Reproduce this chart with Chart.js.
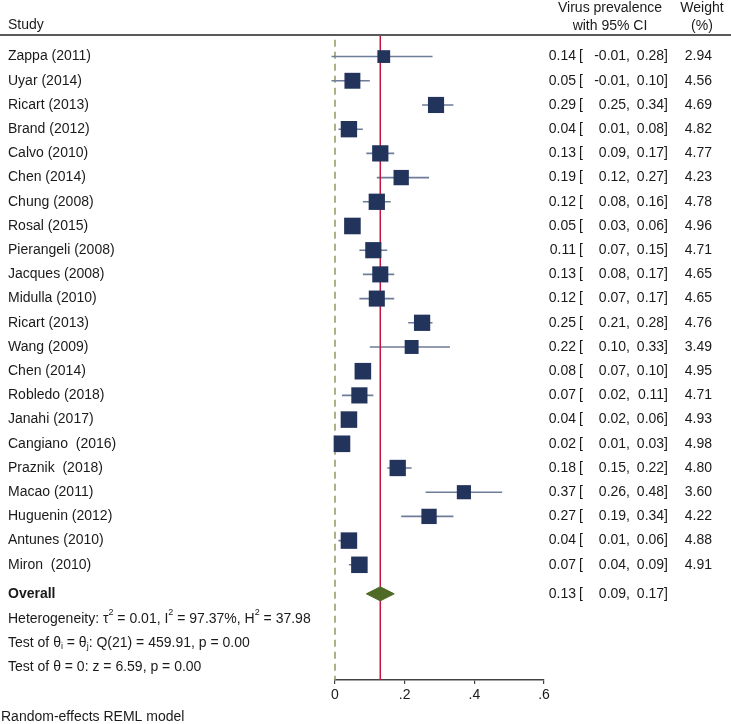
<!DOCTYPE html>
<html>
<head>
<meta charset="utf-8">
<script src="https://cdn.jsdelivr.net/npm/chart.js@4.4.1/dist/chart.umd.min.js"></script>
<style>
  body { margin: 0; background: #fff; }
  canvas { display: block; }
</style>
</head>
<body>
<canvas id="forest" width="731" height="724"></canvas>
<script>
const FONT = "'Liberation Sans', Arial, sans-serif";

const studies = [
  'Zappa (2011)', 'Uyar (2014)', 'Ricart (2013)', 'Brand (2012)', 'Calvo (2010)',
  'Chen (2014)', 'Chung (2008)', 'Rosal (2015)', 'Pierangeli (2008)', 'Jacques (2008)',
  'Midulla (2010)', 'Ricart (2013)', 'Wang (2009)', 'Chen (2014)', 'Robledo (2018)',
  'Janahi (2017)', 'Cangiano  (2016)', 'Praznik  (2018)', 'Macao (2011)', 'Huguenin (2012)',
  'Antunes (2010)', 'Miron  (2010)'
];
const estimates = [0.14, 0.05, 0.29, 0.04, 0.13, 0.19, 0.12, 0.05, 0.11, 0.13, 0.12,
                   0.25, 0.22, 0.08, 0.07, 0.04, 0.02, 0.18, 0.37, 0.27, 0.04, 0.07];
const lower = [-0.01, -0.01, 0.25, 0.01, 0.09, 0.12, 0.08, 0.03, 0.07, 0.08, 0.07,
               0.21, 0.10, 0.07, 0.02, 0.02, 0.01, 0.15, 0.26, 0.19, 0.01, 0.04];
const upper = [0.28, 0.10, 0.34, 0.08, 0.17, 0.27, 0.16, 0.06, 0.15, 0.17, 0.17,
               0.28, 0.33, 0.10, 0.11, 0.06, 0.03, 0.22, 0.48, 0.34, 0.06, 0.09];
const weights = [2.94, 4.56, 4.69, 4.82, 4.77, 4.23, 4.78, 4.96, 4.71, 4.65, 4.65,
                 4.76, 3.49, 4.95, 4.71, 4.93, 4.98, 4.80, 3.60, 4.22, 4.88, 4.91];
const overallEst = 0.13;
const overallLo = 0.09;
const overallHi = 0.17;
const xTicks = [0, 0.2, 0.4, 0.6];

const heteroRuns = [{t: 'Heterogeneity: τ'}, {t: '2', sup: true}, {t: ' = 0.01, I'}, {t: '2', sup: true},
                    {t: ' = 97.37%, H'}, {t: '2', sup: true}, {t: ' = 37.98'}];
const thetaRuns = [{t: 'Test of θ'}, {t: 'i', sub: true}, {t: ' = θ'}, {t: 'j', sub: true},
                   {t: ': Q(21) = 459.91, p = 0.00'}];
const zRuns = [{t: 'Test of θ = 0: z = 6.59, p = 0.00'}];
const modelNote = 'Random-effects REML model';

// row positions on the hidden y axis
const rows = studies.map((s, i) => i + 1);
const overallRow = 23.2;
const yMin = 0.15, yMax = 26.76;

const ciData = [];
rows.forEach((r, i) => {
  ciData.push({x: lower[i], y: r}, {x: upper[i], y: r}, {x: null, y: null});
});
const markerData = rows.map((r, i) => ({x: estimates[i], y: r}));
const dh = 0.29; // half height of the diamond in row units
const diamondData = [
  {x: overallLo, y: overallRow}, {x: overallEst, y: overallRow - dh},
  {x: overallHi, y: overallRow}, {x: overallEst, y: overallRow + dh},
  {x: overallLo, y: overallRow}
];

function drawRuns(ctx, x, y, runs) {
  runs.forEach(r => {
    const small = r.sup || r.sub;
    ctx.font = (small ? '9px ' : '14px ') + FONT;
    const dy = r.sup ? -6 : (r.sub ? 4 : 0);
    ctx.fillText(r.t, x, y + dy);
    x += ctx.measureText(r.t).width;
  });
}

const textPlugin = {
  id: 'forestText',
  afterDraw(chart) {
    const ctx = chart.ctx;
    const y = chart.scales.y;
    ctx.save();
    ctx.fillStyle = '#1a1a1a';
    ctx.textBaseline = 'middle';
    ctx.font = '14px ' + FONT;

    // header
    ctx.textAlign = 'left';
    ctx.fillText('Study', 8, 25);
    ctx.textAlign = 'center';
    ctx.fillText('Virus prevalence', 610, 8);
    ctx.fillText('with 95% CI', 610, 26);
    ctx.fillText('Weight', 702, 8);
    ctx.fillText('(%)', 702, 26);
    ctx.strokeStyle = '#222';
    ctx.lineWidth = 1.5;
    ctx.beginPath();
    ctx.moveTo(0, 35);
    ctx.lineTo(731, 35);
    ctx.stroke();

    const ciText = (py, e, lo, hi) => {
      ctx.textAlign = 'right';
      ctx.fillText(e.toFixed(2), 576, py);
      ctx.textAlign = 'left';
      ctx.fillText('[', 579, py);
      ctx.textAlign = 'right';
      ctx.fillText(lo.toFixed(2) + ',', 630, py);
      ctx.fillText(hi.toFixed(2) + ']', 668, py);
    };

    rows.forEach((r, i) => {
      const py = y.getPixelForValue(r);
      ctx.textAlign = 'left';
      ctx.fillText(studies[i], 8, py);
      ciText(py, estimates[i], lower[i], upper[i]);
      ctx.textAlign = 'right';
      ctx.fillText(weights[i].toFixed(2), 712, py);
    });

    const oy = y.getPixelForValue(overallRow);
    ctx.textAlign = 'left';
    ctx.font = 'bold 14px ' + FONT;
    ctx.fillText('Overall', 8, oy);
    ctx.font = '14px ' + FONT;
    ciText(oy, overallEst, overallLo, overallHi);

    ctx.textAlign = 'left';
    drawRuns(ctx, 8, oy + 25, heteroRuns);
    drawRuns(ctx, 8, oy + 49, thetaRuns);
    drawRuns(ctx, 8, oy + 73, zRuns);
    ctx.font = '14px ' + FONT;
    ctx.fillText(modelNote, 1, 717);
    ctx.restore();
  }
};

new Chart(document.getElementById('forest'), {
  type: 'scatter',
  data: {
    datasets: [
      {
        // study markers
        data: markerData,
        pointStyle: 'rect',
        pointRadius: c => 5.27 * Math.sqrt(weights[c.dataIndex]),
        backgroundColor: '#22335c',
        borderWidth: 0,
        clip: false,
        order: 0
      },
      {
        type: 'line',
        data: diamondData,
        borderColor: '#4f6a25',
        backgroundColor: '#4f6a25',
        borderWidth: 1,
        fill: 'shape',
        pointRadius: 0,
        tension: 0,
        order: 1
      },
      {
        type: 'line',
        data: [{x: overallEst, y: yMin}, {x: overallEst, y: yMax}],
        borderColor: '#c2163f',
        borderWidth: 1.5,
        pointRadius: 0,
        order: 2
      },
      {
        type: 'line',
        data: ciData,
        borderColor: '#6e7c9a',
        borderWidth: 1.6,
        pointRadius: 0,
        spanGaps: false,
        clip: false,
        order: 3
      },
      {
        type: 'line',
        data: [{x: 0, y: 0.3}, {x: 0, y: yMax}],
        borderColor: '#8c9c5e',
        borderWidth: 1.5,
        borderDash: [7, 5],
        pointRadius: 0,
        clip: false,
        order: 4
      }
    ]
  },
  options: {
    responsive: false,
    animation: false,
    events: [],
    layout: { padding: { left: 335, right: 187, top: 36, bottom: 0 } },
    plugins: {
      legend: { display: false },
      tooltip: { enabled: false }
    },
    scales: {
      x: {
        type: 'linear',
        min: xTicks[0],
        max: xTicks[xTicks.length - 1],
        afterFit: s => { s.height = 44; },
        afterBuildTicks: s => { s.ticks = xTicks.map(v => ({value: v})); },
        grid: { drawOnChartArea: false, tickLength: 4, color: '#444', lineWidth: 1.2 },
        border: { display: true, color: '#444', width: 1.5 },
        ticks: {
          padding: 3,
          color: '#1a1a1a',
          font: { family: FONT, size: 14 },
          callback: v => v === 0 ? '0' : v.toFixed(1).replace(/^0\./, '.')
        }
      },
      y: {
        type: 'linear',
        display: false,
        reverse: true,
        min: yMin,
        max: yMax
      }
    }
  },
  plugins: [textPlugin]
});
</script>
</body>
</html>
